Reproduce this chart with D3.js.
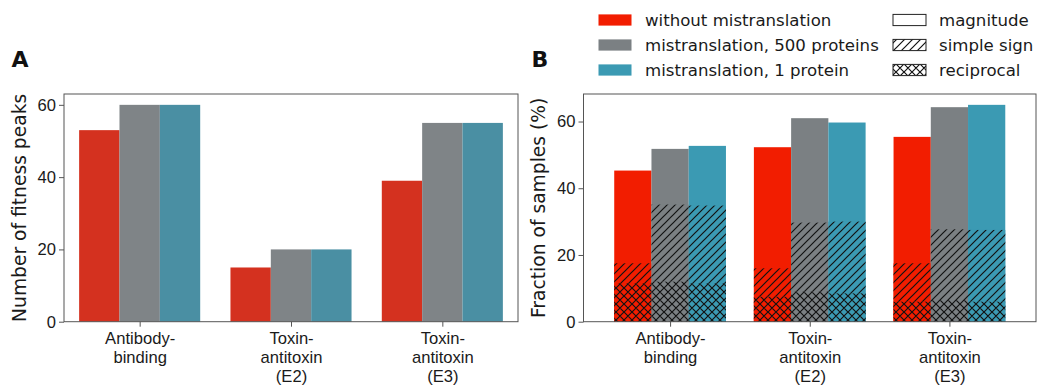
<!DOCTYPE html>
<html>
<head>
<meta charset="utf-8">
<script src="https://cdn.jsdelivr.net/npm/d3@7"></script>
<style>
  body { margin: 0; background: #fff; }
  svg { font-family: "DejaVu Sans", sans-serif; display: block; }
  .tick text { font-size: 16.6px; fill: #1a1a1a; }
  .tick line { stroke: #555; }
</style>
</head>
<body>
<div id="plot"></div>
<script>
// categories / series
const categories = [["Antibody-", "binding"], ["Toxin-", "antitoxin", "(E2)"], ["Toxin-", "antitoxin", "(E3)"]];
const seriesNames = ["without mistranslation", "mistranslation, 500 proteins", "mistranslation, 1 protein"];
const hatchNames = ["magnitude", "simple sign", "reciprocal"];
const yTicksA = [0, 20, 40, 60];
const yTicksB = [0, 20, 40, 60];

// panel A: number of fitness peaks
const peaksWithout = [53, 15, 39];
const peaks500 = [60, 20, 55];
const peaks1 = [60, 20, 55];

// panel B: fraction of samples (%)
const magWithout = [45.3, 52.3, 55.4];
const mag500 = [51.8, 61.0, 64.3];
const mag1 = [52.7, 59.7, 65.0];
const simWithout = [17.5, 16.0, 17.5];
const sim500 = [35.1, 29.7, 27.7];
const sim1 = [34.8, 30.0, 27.5];
const recWithout = [11.5, 7.5, 6.0];
const rec500 = [12.0, 9.0, 6.5];
const rec1 = [11.5, 8.5, 6.0];

const colorsA = ["#d4311f", "#7f8487", "#4a8fa3"];
const colorsB = ["#f21d00", "#7b8083", "#3b9ab3"];

const w = 1037, h = 386;
const svg = d3.select("#plot").append("svg").attr("width", w).attr("height", h);

// hatch patterns
const defs = svg.append("defs");
const s = 8;
defs.append("pattern").attr("id", "hatchSimple")
  .attr("patternUnits", "userSpaceOnUse").attr("width", s).attr("height", s)
  .append("path")
  .attr("d", `M0,${s} L${s},0 M${-s/2},${s/2} L${s/2},${-s/2} M${s/2},${1.5*s} L${1.5*s},${s/2}`)
  .attr("stroke", "#111").attr("stroke-width", 1.2);
const px = defs.append("pattern").attr("id", "hatchCross")
  .attr("patternUnits", "userSpaceOnUse").attr("width", s).attr("height", s);
px.append("path")
  .attr("d", `M0,${s} L${s},0 M${-s/2},${s/2} L${s/2},${-s/2} M${s/2},${1.5*s} L${1.5*s},${s/2}` +
             ` M0,0 L${s},${s} M${-s/2},${s/2} L${s/2},${1.5*s} M${s/2},${-s/2} L${1.5*s},${s/2}`)
  .attr("stroke", "#111").attr("stroke-width", 1.2);

const plotTop = 94, plotBottom = 321.7;

function panel(x0, x1, xDomain, yMax, ticks, yLabel, yLabelX, letter, letterX) {
  const x = d3.scaleLinear().domain(xDomain).range([x0, x1]);
  const y = d3.scaleLinear().domain([0, yMax]).range([plotBottom, plotTop]);
  const g = svg.append("g");
  const bars = g.append("g");
  const yAxis = g.append("g").attr("transform", `translate(${x0},0)`)
    .call(d3.axisLeft(y).tickValues(ticks).tickSize(5).tickPadding(3));
  yAxis.select(".domain").remove();
  const xAxis = g.append("g").attr("transform", `translate(0,${plotBottom})`)
    .call(d3.axisBottom(x).tickValues([0, 1, 2]).tickSize(5).tickFormat(""));
  xAxis.select(".domain").remove();
  xAxis.selectAll(".tick").each(function(d) {
    const t = d3.select(this).append("text").attr("text-anchor", "middle");
    categories[d].forEach((line, i) => {
      t.append("tspan").attr("x", 0).attr("y", 22.3 + i * 19).text(line);
    });
  });
  g.append("rect").attr("x", x0).attr("y", plotTop).attr("width", x1 - x0).attr("height", plotBottom - plotTop)
    .attr("fill", "none").attr("stroke", "#555").attr("stroke-width", 1);
  g.append("text").attr("transform", `translate(${yLabelX},${(plotTop + plotBottom) / 2}) rotate(-90)`)
    .attr("text-anchor", "middle").attr("font-size", "18.7px").attr("fill", "#1a1a1a").text(yLabel);
  g.append("text").attr("x", letterX).attr("y", 67).attr("font-size", "22px")
    .attr("font-weight", "bold").attr("fill", "#111").text(letter);
  return { x, y, bars };
}

const bw = 0.8 / 3;

// ---------- panel A ----------
const A = panel(64, 518, [-0.5, 2.5], 63, yTicksA, "Number of fitness peaks", 25.8, "A", 11.5);
[peaksWithout, peaks500, peaks1].forEach((vals, k) => {
  A.bars.selectAll(null).data(vals).enter().append("rect")
    .attr("x", (d, i) => A.x(i + (k - 1.5) * bw))
    .attr("width", A.x(bw) - A.x(0))
    .attr("y", d => A.y(d))
    .attr("height", d => A.y(0) - A.y(d))
    .attr("fill", colorsA[k]);
});

// ---------- panel B ----------
const B = panel(583.5, 1036, [-0.62, 2.62], 68.25, yTicksB, "Fraction of samples (%)", 545, "B", 531.5);
const layers = [
  [magWithout, mag500, mag1, null],
  [simWithout, sim500, sim1, "url(#hatchSimple)"],
  [recWithout, rec500, rec1, "url(#hatchCross)"]
];
layers.forEach(layer => {
  [0, 1, 2].forEach(k => {
    const xpos = (d, i) => B.x(i + (k - 1.5) * bw);
    B.bars.selectAll(null).data(layer[k]).enter().append("rect")
      .attr("x", xpos).attr("width", B.x(bw) - B.x(0))
      .attr("y", d => B.y(d)).attr("height", d => B.y(0) - B.y(d)).attr("fill", colorsB[k]);
    if (layer[3]) {
      B.bars.selectAll(null).data(layer[k]).enter().append("rect")
        .attr("x", xpos).attr("width", B.x(bw) - B.x(0))
        .attr("y", d => B.y(d)).attr("height", d => B.y(0) - B.y(d)).attr("fill", layer[3]);
    }
  });
});

// ---------- legend ----------
const legend = svg.append("g").attr("font-size", "16.6px").attr("fill", "#1a1a1a");
const rowY = [20, 45, 70];
seriesNames.forEach((name, i) => {
  legend.append("rect").attr("x", 598.5).attr("y", rowY[i] - 5.6).attr("width", 33).attr("height", 11.2)
    .attr("fill", colorsB[i]);
  legend.append("text").attr("x", 645).attr("y", rowY[i]).attr("dy", "0.36em").text(name);
});
const hatchFills = ["#fff", "url(#hatchSimple)", "url(#hatchCross)"];
hatchNames.forEach((name, i) => {
  legend.append("rect").attr("x", 893).attr("y", rowY[i] - 5.6).attr("width", 33).attr("height", 11.2)
    .attr("fill", hatchFills[i]).attr("stroke", "#222").attr("stroke-width", 1);
  legend.append("text").attr("x", 939).attr("y", rowY[i]).attr("dy", "0.36em").text(name);
});
</script>
</body>
</html>
